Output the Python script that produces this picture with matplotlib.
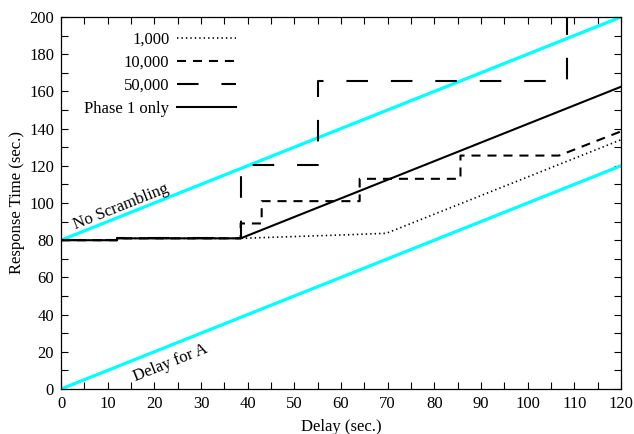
import numpy as np
import matplotlib.pyplot as plt
from matplotlib.ticker import MultipleLocator

plt.rcParams['font.family'] = ['Liberation Serif', 'DejaVu Serif']
plt.rcParams['lines.scale_dashes'] = False

# ── data (delay in sec, response time in sec) ────────────────────────────────
no_scr_x = [0, 120]
no_scr_y = [80, 200]
delay_a_x = [0, 120]
delay_a_y = [0, 120]

phase1_x = [0, 12, 12, 38.5, 120]
phase1_y = [80, 80, 81, 81, 162.5]

n1000_x = [0, 12, 12, 38.5, 60, 69.7, 120]
n1000_y = [80, 80, 81, 81, 82.8, 83.7, 134]

n10000_x = [0, 12, 12, 38.5, 38.5, 43, 43, 64, 64, 85.6, 85.6, 106.7, 120]
n10000_y = [80, 80, 81, 81, 89, 89, 101, 101, 113, 113, 125.5, 125.5, 138.5]

n50000_x = [0, 12, 12, 38.5, 38.5, 55, 55, 108.5, 108.5]
n50000_y = [80, 80, 81, 81, 120.5, 120.5, 165.5, 165.5, 205]

FS = 12

# ── figure ──────────────────────────────────────────────────────────────────
fig = plt.figure(figsize=(6.34, 4.34), dpi=100)
ax = fig.add_axes([61/634, 1 - 389/434, 560/634, 372/434])

CYAN = "#00ffff"
ax.plot(no_scr_x, no_scr_y, color=CYAN, lw=2.3, zorder=2)
ax.plot(delay_a_x, delay_a_y, color=CYAN, lw=2.3, zorder=2)

l1, = ax.plot(n1000_x, n1000_y, color="black", lw=1.2,
              dashes=(1.0, 2.2), label="1,000", zorder=3)
l2, = ax.plot(n10000_x, n10000_y, color="black", lw=1.5,
              dashes=(6.5, 5.0), label="10,000", zorder=3)
l3, = ax.plot(n50000_x, n50000_y, color="black", lw=1.5,
              dashes=(15.5, 16.5), label="50,000", zorder=3)
l4, = ax.plot(phase1_x, phase1_y, color="black", lw=1.5,
              label="Phase 1 only", zorder=4)

ax.set_xlim(0, 120)
ax.set_ylim(0, 200)
ax.xaxis.set_major_locator(MultipleLocator(10))
ax.xaxis.set_minor_locator(MultipleLocator(5))
ax.yaxis.set_major_locator(MultipleLocator(20))
ax.yaxis.set_minor_locator(MultipleLocator(10))
ax.tick_params(which="both", direction="in", top=True, right=True,
               length=5, width=0.8, labelsize=FS, pad=5)
for sp in ax.spines.values():
    sp.set_linewidth(0.9)

ax.set_xlabel("Delay (sec.)", fontsize=FS, labelpad=5)
ax.set_ylabel("Response Time (sec.)", fontsize=FS, labelpad=3)

ang = np.degrees(np.arctan(ax.get_position().height * 434 / 200 /
                           (ax.get_position().width * 634 / 120)))
ax.text(12.8, 98.0, "No Scrambling", rotation=ang, rotation_mode="anchor",
        ha="center", va="center", fontsize=FS)
ax.text(23.5, 14.0, "Delay for A", rotation=ang, rotation_mode="anchor",
        ha="center", va="center", fontsize=FS)

ax.legend(handles=[l1, l2, l3, l4], loc="upper right",
          bbox_to_anchor=(0.3125, 0.96), frameon=False, markerfirst=False,
          fontsize=FS, handlelength=3.55, handletextpad=0.45,
          labelspacing=0.42, borderaxespad=0, borderpad=0)

fig.savefig("out.png", dpi=100)
